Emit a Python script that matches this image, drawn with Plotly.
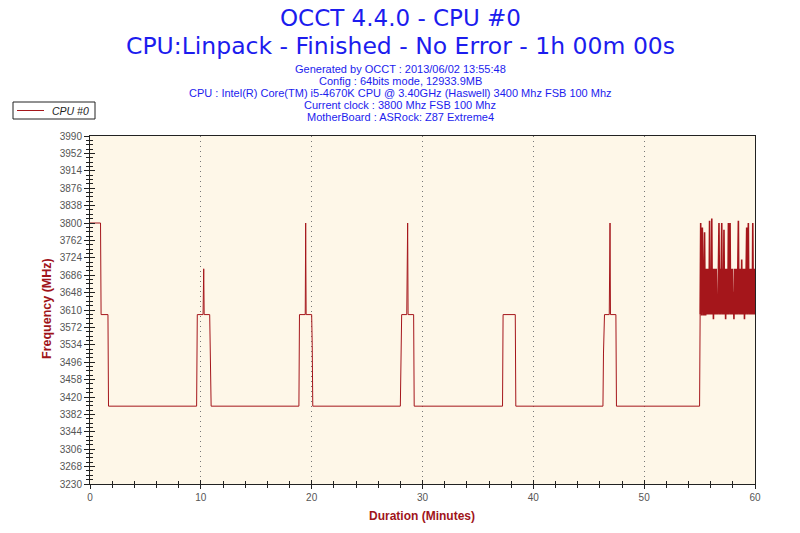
import plotly.graph_objects as go

# ---- data ----
step_times = [0.0, 0.95, 1.0, 1.62, 1.67, 9.62, 9.68, 10.2, 10.26, 10.3, 10.8, 10.85, 10.93,
              18.85, 18.9, 19.42, 19.46, 19.5, 20.0, 20.05, 20.1,
              28.0, 28.05, 28.12, 28.58, 28.62, 28.66, 28.7, 29.2, 29.25,
              37.22, 37.27, 38.37, 38.42,
              46.28, 46.33, 46.42, 46.85, 46.88, 46.92, 46.96, 47.45, 47.5,
              55.0]
step_mhz = [3800, 3800, 3600, 3600, 3400, 3400, 3600, 3600, 3700, 3600, 3600, 3483, 3400,
            3400, 3600, 3600, 3800, 3600, 3600, 3533, 3400,
            3400, 3464, 3600, 3600, 3737, 3800, 3600, 3600, 3400,
            3400, 3600, 3600, 3400,
            3400, 3516, 3600, 3600, 3755, 3800, 3600, 3600, 3400,
            3400]

noisy_times = [55.05, 55.10, 55.15, 55.20, 55.25, 55.30, 55.35, 55.40, 55.45, 55.50,
               55.55, 55.60, 55.65, 55.70, 55.75, 55.80, 55.85, 55.90, 55.95, 56.00,
               56.05, 56.10, 56.15, 56.20, 56.25, 56.30, 56.35, 56.40, 56.45, 56.50,
               56.55, 56.60, 56.65, 56.70, 56.75, 56.80, 56.85, 56.90, 56.95, 57.00,
               57.05, 57.10, 57.15, 57.20, 57.25, 57.30, 57.35, 57.40, 57.45, 57.50,
               57.55, 57.60, 57.65, 57.70, 57.75, 57.80, 57.85, 57.90, 57.95, 58.00,
               58.05, 58.10, 58.15, 58.20, 58.25, 58.30, 58.35, 58.40, 58.45, 58.50,
               58.55, 58.60, 58.65, 58.70, 58.75, 58.80, 58.85, 58.90, 58.95, 59.00,
               59.05, 59.10, 59.15, 59.20, 59.25, 59.30, 59.35, 59.40, 59.45, 59.50,
               59.55, 59.60, 59.65, 59.70, 59.75, 59.80, 59.85, 59.90, 59.95, 60.00]
noisy_mhz = [3600, 3800, 3600, 3600, 3790, 3600, 3600, 3600, 3780, 3600,
             3600, 3700, 3600, 3700, 3600, 3700, 3600, 3805, 3600, 3700,
             3600, 3810, 3600, 3700, 3590, 3700, 3600, 3700, 3600, 3700,
             3600, 3640, 3600, 3700, 3800, 3600, 3700, 3600, 3700, 3800,
             3600, 3700, 3600, 3785, 3600, 3700, 3590, 3700, 3600, 3700,
             3600, 3800, 3600, 3700, 3800, 3600, 3700, 3600, 3700, 3600,
             3650, 3590, 3700, 3600, 3700, 3600, 3700, 3600, 3700, 3805,
             3600, 3700, 3600, 3700, 3600, 3720, 3600, 3700, 3600, 3700,
             3590, 3700, 3600, 3700, 3790, 3600, 3700, 3800, 3600, 3700,
             3600, 3700, 3600, 3700, 3600, 3800, 3600, 3700, 3600, 3700]

y_ticks = [3230, 3268, 3306, 3344, 3382, 3420, 3458, 3496, 3534, 3572, 3610,
           3648, 3686, 3724, 3762, 3800, 3838, 3876, 3914, 3952, 3990]
x_ticks = [0, 10, 20, 30, 40, 50, 60]

series_name = "CPU #0"
title_lines = ["OCCT 4.4.0 - CPU #0", "CPU:Linpack - Finished - No Error - 1h 00m 00s"]
info_lines = ["Generated by OCCT : 2013/06/02 13:55:48",
              "Config : 64bits mode, 12933.9MB",
              "CPU : Intel(R) Core(TM) i5-4670K CPU @ 3.40GHz (Haswell) 3400 Mhz FSB 100 Mhz",
              "Current clock : 3800 Mhz FSB 100 Mhz",
              "MotherBoard : ASRock: Z87 Extreme4"]

# ---- figure ----
W, H = 800, 533
L, R, T, B = 90, 45, 136, 49
pw = W - L - R
ph = H - T - B

def py(pix):
    return (H - B - pix) / ph

def px(pix):
    return (pix - L) / pw

LINE = "#A5161B"
BLUE = "#1C1CEE"
RED = "#A0141A"
FONT = "Liberation Sans"
TFONT = "DejaVu Sans"

minor_y = [v + 9.5 * k for v in y_ticks[:-1] for k in (1, 2, 3)]

fig = go.Figure()
fig.add_trace(go.Scatter(x=step_times + noisy_times[:1], y=step_mhz + noisy_mhz[:1],
                         mode="lines", name=series_name,
                         line=dict(color=LINE, width=1)))
fig.add_trace(go.Scatter(x=noisy_times, y=noisy_mhz,
                         mode="lines", name=series_name, showlegend=False,
                         line=dict(color=LINE, width=1.6)))
fig.add_trace(go.Scatter(x=[], y=[], xaxis="x2", yaxis="y2", showlegend=False))

axis_common = dict(showline=True, linecolor="#222", linewidth=1, zeroline=False,
                   tickcolor="#222", tickfont=dict(family=FONT, size=10, color="#555"))

fig.update_layout(
    width=W, height=H,
    margin=dict(l=L, r=R, t=T, b=B, autoexpand=False),
    paper_bgcolor="white", plot_bgcolor="#FEF7E8",
    font=dict(family=FONT),
    showlegend=False,
    xaxis=dict(range=[0, 60], tickvals=x_ticks, ticks="outside", ticklen=4,
               showgrid=True, gridcolor="#777", griddash="1px,4px", gridwidth=1,
               mirror=True,
               minor=dict(dtick=2, ticks="outside", ticklen=3, tickcolor="#222", showgrid=False),
               **axis_common),
    yaxis=dict(range=[3230, 3990], tickvals=y_ticks, ticks="outside", ticklen=5,
               showgrid=False, mirror=True,
               minor=dict(tickvals=minor_y, ticks="outside", ticklen=3,
                          tickcolor="#222", showgrid=False),
               **axis_common),
    xaxis2=dict(overlaying="x", anchor="y", side="bottom", range=[0, 60],
                tickvals=x_ticks, ticks="inside", ticklen=4, tickcolor="#222",
                showticklabels=False, showgrid=False, showline=False, zeroline=False,
                minor=dict(dtick=2, ticks="inside", ticklen=3, tickcolor="#222", showgrid=False)),
    yaxis2=dict(overlaying="y", anchor="x", side="left", range=[3230, 3990],
                tickvals=y_ticks, ticks="inside", ticklen=5, tickcolor="#222",
                showticklabels=False, showgrid=False, showline=False, zeroline=False,
                minor=dict(tickvals=minor_y, ticks="inside", ticklen=3,
                           tickcolor="#222", showgrid=False)),
)

# legend box drawn as shapes (compact, like the reference)
shapes = [
    dict(type="rect", xref="paper", yref="paper", x0=px(13), x1=px(95), y0=py(119), y1=py(102),
         line=dict(color="#222", width=1), fillcolor="white", layer="above"),
    dict(type="line", xref="paper", yref="paper", x0=px(17), x1=px(44), y0=py(110.5), y1=py(110.5),
         line=dict(color=LINE, width=1), layer="above"),
]

ann = []
ann.append(dict(text=series_name, x=px(50), xref="paper", y=py(110.5), yref="paper",
                showarrow=False, xanchor="left", yanchor="middle",
                font=dict(family=FONT, size=10.5, color="#222", style="italic")))
ann.append(dict(text=title_lines[0], x=px(400), xref="paper", y=py(18), yref="paper",
                showarrow=False, xanchor="center", yanchor="middle",
                font=dict(family=TFONT, size=23, color=BLUE)))
ann.append(dict(text=title_lines[1], x=px(400), xref="paper", y=py(46), yref="paper",
                showarrow=False, xanchor="center", yanchor="middle",
                font=dict(family=TFONT, size=23.5, color=BLUE)))
for i, t in enumerate(info_lines):
    ann.append(dict(text=t, x=px(400), xref="paper", y=py(69 + 12 * i), yref="paper",
                    showarrow=False, xanchor="center", yanchor="middle",
                    font=dict(family=FONT, size=11, color=BLUE)))
ann.append(dict(text="<b>Frequency (MHz)</b>", x=px(47), xref="paper", y=py(309), yref="paper",
                showarrow=False, textangle=-90, xanchor="center", yanchor="middle",
                font=dict(family=FONT, size=12.5, color=RED)))
ann.append(dict(text="<b>Duration (Minutes)</b>", x=px(422), xref="paper", y=py(516), yref="paper",
                showarrow=False, xanchor="center", yanchor="middle",
                font=dict(family=FONT, size=12, color=RED)))
fig.update_layout(annotations=ann, shapes=shapes)

fig.write_html("out.html", config={"displayModeBar": False},
               post_script="document.body.style.margin='0px';")
